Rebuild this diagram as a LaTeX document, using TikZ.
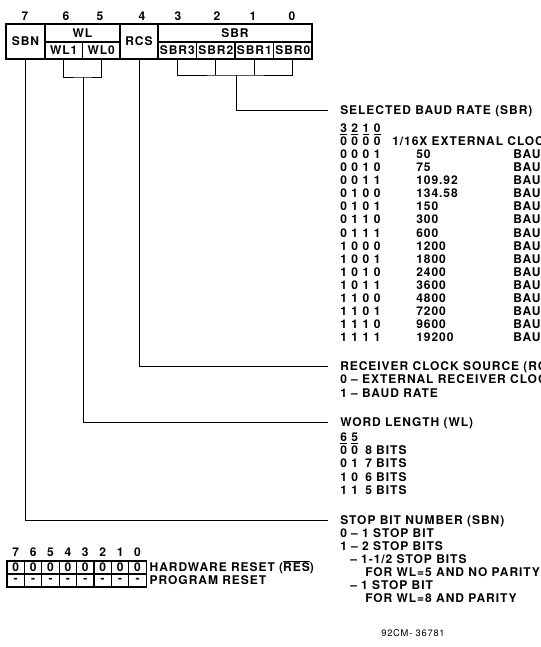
\documentclass[tikz,border=0pt]{standalone}
\usepackage{fontspec}
\setmainfont{TeX Gyre Heros}[LetterSpace=8]
\usetikzlibrary{positioning}

\tikzset{
  regcell/.style={draw, line width=0.9pt, inner sep=0pt, font={\bfseries\fontsize{9}{10}\selectfont}},
  bitcell/.style={draw, line width=0.8pt, inner sep=0pt, minimum width=13.05pt, minimum height=9.75pt, font={\bfseries\fontsize{9}{10}\selectfont}},
  bitno/.style={inner sep=0pt, font={\bfseries\fontsize{9}{10}\selectfont}},
  txt/.style={anchor=west, inner sep=0pt, text height=6.5pt, text depth=0pt, font={\bfseries\fontsize{9}{10}\selectfont}},
  code/.style={txt, font={\bfseries\fontsize{9}{10}\selectfont\spaceskip=3.4pt\relax}},
  wire/.style={line width=0.6pt, shorten >=9pt},
}

\begin{document}
\begin{tikzpicture}[x={(0.75pt,0)},y={(0,-0.75pt)}]
\useasboundingbox (0,0) rectangle (541,647);
\clip (0,0) rectangle (541,647);

% control register
\node[regcell, minimum width=29.25pt, minimum height=26.25pt] (sbn) at (25.5,41.5) {SBN};
\node[regcell, minimum width=56.25pt, minimum height=13.5pt] (wl) at (82.5,33) {WL};
\node[regcell, minimum width=28.1pt, minimum height=12.75pt] (wl1) at (63.75,50.5) {WL1};
\node[regcell, minimum width=28.1pt, minimum height=12.75pt] (wl0) at (101.25,50.5) {WL0};
\node[regcell, minimum width=28.5pt, minimum height=26.25pt] (rcs) at (139,41.5) {RCS};
\node[regcell, minimum width=115.5pt, minimum height=13.5pt] (sbr) at (235,33) {SBR};
\foreach \n [count=\i from 0] in {3,2,1,0}
  \node[regcell, minimum width=28.875pt, minimum height=12.75pt] (sbr\n) at (177.25+38.5*\i,50.5) {SBR\n};
\foreach \b/\x in {7/25,6/66,5/100,4/142,3/178,2/217,1/253,0/292}
  \node[bitno] (bit\b) at (\x,16) {\b};

% baud rate
\node[txt] (sbrhead) at (340,110) {SELECTED BAUD RATE (SBR)};
\node[code] (sbrbits) at (340,128) {\underline{3} \underline{2} \underline{1} \underline{0}};
\node[code] (c0) at (340,141) {0 0 0 0};
\node[txt] (r0) at (392,141) {1/16X EXTERNAL CLOCK};
\foreach \c/\r [count=\i] in {0 0 0 1/50, 0 0 1 0/75, 0 0 1 1/109.92, 0 1 0 0/134.58,
    0 1 0 1/150, 0 1 1 0/300, 0 1 1 1/600, 1 0 0 0/1200, 1 0 0 1/1800, 1 0 1 0/2400,
    1 0 1 1/3600, 1 1 0 0/4800, 1 1 0 1/7200, 1 1 1 0/9600, 1 1 1 1/19200} {
  \node[code] (c\i) at (340,141+13.1*\i) {\c};
  \node[txt] (r\i) at (416,141+13.1*\i) {\r};
  \node[txt] (baud\i) at (513,141+13.1*\i) {BAUD};
}

% receiver clock
\node[txt] (rcshead) at (340,366) {RECEIVER CLOCK SOURCE (RCS)};
\node[txt] (rcs0) at (340,379) {0 -- EXTERNAL RECEIVER CLOCK};
\node[txt] (rcs1) at (340,393) {1 -- BAUD RATE};

% word length
\node[txt] (wlhead) at (340,422) {WORD LENGTH (WL)};
\node[code] (wlbits) at (340,437) {\underline{6} \underline{5}};
\foreach \c/\w [count=\i] in {0 0/8, 0 1/7, 1 0/6, 1 1/5} {
  \node[code] (wc\i) at (340,437+13.3*\i) {\c};
  \node[txt] (wb\i) at (365,437+13.3*\i) {{\w} BITS};
}

% stop bits
\node[txt] (sbnhead) at (340,520) {STOP BIT NUMBER (SBN)};
\node[txt] (sbn0) at (340,533) {0 -- 1 STOP BIT};
\node[txt] (sbn1) at (340,546) {1 -- 2 STOP BITS};
\node[txt] (sbn2) at (350,559) {-- 1-1/2 STOP BITS};
\node[txt] (sbn3) at (365,572) {FOR WL=5 AND NO PARITY};
\node[txt] (sbn4) at (350,585) {-- 1 STOP BIT};
\node[txt] (sbn5) at (365,598) {FOR WL=8 AND PARITY};

% wires
\coordinate (wlj) at (83,77);
\coordinate (sbrj) at (236,75);
\draw[line width=0.6pt] (wl1.south) |- (wlj) -| (wl0.south);
\draw[line width=0.6pt] (sbr3.south) |- (sbrj) -| (sbr0.south);
\draw[line width=0.6pt] (sbr2.south) -- (sbr2.south |- sbrj);
\draw[line width=0.6pt] (sbr1.south) -- (sbr1.south |- sbrj);
\draw[wire] (sbrj) |- (sbrhead.west);
\draw[wire] (rcs.south) |- (rcshead.west);
\draw[wire] (wlj) |- (wlhead.west);
\draw[wire] (sbn.south) |- (sbnhead.west);

% reset values
\foreach \b [count=\i from 0] in {7,6,5,4,3,2,1,0} {
  \node[bitno] (rb\b) at (15.7+17.4*\i,552) {\b};
  \node[bitcell] (hw\b) at (15.7+17.4*\i,567.5) {0};
  \node[bitcell] (pr\b) at (15.7+17.4*\i,580.5) {-};
}
\node[txt, right=2pt of hw0] (hwlabel) {HARDWARE RESET ($\overline{\mbox{RES}}$)};
\node[txt, right=2pt of pr0] (prlabel) {PROGRAM RESET};

\node[inner sep=0pt, font={\fontsize{7}{8}\selectfont}] (figno) at (413,633) {92CM- 36781};
\end{tikzpicture}
\end{document}
